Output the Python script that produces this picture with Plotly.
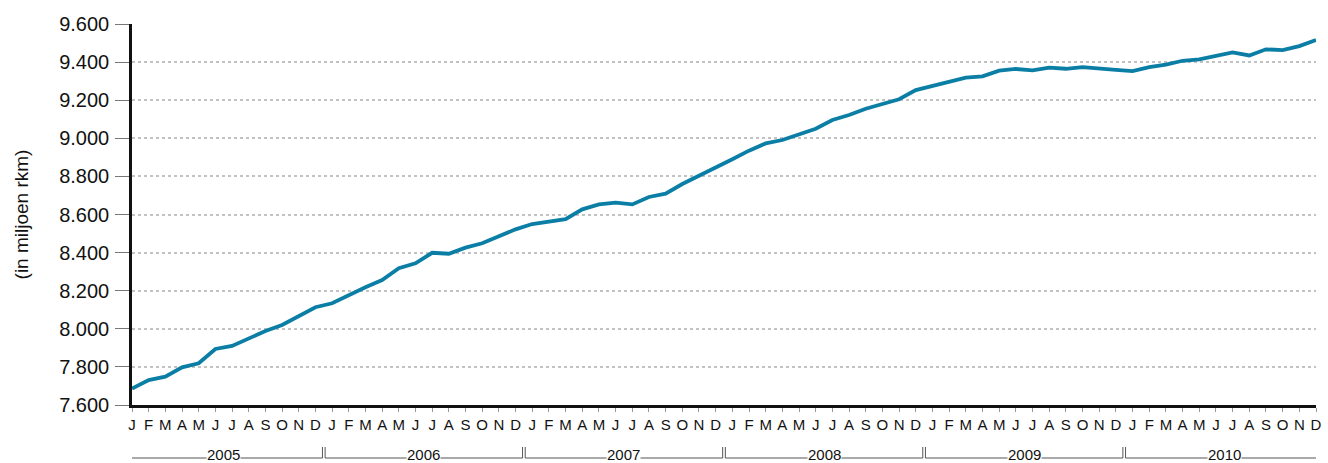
import plotly.graph_objects as go

months = ["J", "F", "M", "A", "M", "J", "J", "A", "S", "O", "N", "D"]
years = ["2005", "2006", "2007", "2008", "2009", "2010"]
values = [
    7686, 7731, 7749, 7798, 7819, 7894, 7910, 7950, 7988, 8020, 8067, 8113,
    8134, 8177, 8218, 8256, 8318, 8344, 8399, 8394, 8426, 8449, 8484, 8522,
    8550, 8562, 8576, 8627, 8653, 8662, 8653, 8692, 8709, 8760, 8802, 8844,
    8890, 8935, 8973, 8991, 9019, 9050, 9096, 9122, 9155, 9180, 9205, 9253,
    9276, 9294, 9318, 9325, 9355, 9364, 9357, 9371, 9365, 9374, 9369, 9359,
    9353, 9373, 9387, 9407, 9414, 9433, 9451, 9435, 9467, 9463, 9484, 9516,
]
yticks = [7600, 7800, 8000, 8200, 8400, 8600, 8800, 9000, 9200, 9400, 9600]

x = list(range(len(values)))
ticktext = [months[i % 12] for i in x]

fig = go.Figure()
fig.add_trace(go.Scatter(x=x, y=values, mode="lines",
                         line=dict(color="#0b7ea6", width=3.8),
                         hoverinfo="skip", showlegend=False))

PH = 381.0  # plot height in px


def py(pix):
    return (405 - pix) / PH


shapes = []
annotations = []
for k, yr in enumerate(years):
    x0 = k * 12 - 0.42
    x1 = k * 12 + 11.42
    for xx in (x0, x1):
        shapes.append(dict(type="line", xref="x", yref="paper", x0=xx, x1=xx,
                           y0=py(447), y1=py(458), line=dict(color="#555", width=1)))
    shapes.append(dict(type="line", xref="x", yref="paper", x0=x0, x1=x1,
                       y0=py(458), y1=py(458), line=dict(color="#555", width=1)))
    annotations.append(dict(x=k * 12 + 5.5, xref="x", y=py(454), yref="paper",
                            text=yr, showarrow=False, yanchor="middle",
                            font=dict(size=15, color="#111", family="Liberation Sans, Arial"),
                            bgcolor="white", borderpad=0))

fig.update_layout(
    width=1328, height=463,
    margin=dict(l=132, r=6, t=24, b=58),
    paper_bgcolor="white", plot_bgcolor="white",
    separators=",.",
    font=dict(family="Liberation Sans, Arial", color="#111"),
    shapes=shapes, annotations=annotations,
)
fig.update_xaxes(
    range=[0, 71], tickmode="array", tickvals=x, ticktext=ticktext,
    showgrid=False, zeroline=False,
    showline=True, linecolor="#111", linewidth=2.5,
    ticks="outside", ticklen=4, tickcolor="#999", tickwidth=1,
    tickfont=dict(size=15, color="#111"), ticklabelstandoff=0,
)
fig.update_yaxes(
    range=[7600, 9600], tickmode="array", tickvals=yticks,
    tickformat=",.0f",
    showgrid=True, gridcolor="#c2c2c2", griddash="dot", gridwidth=2,
    zeroline=False,
    showline=True, linecolor="#111", linewidth=2.5,
    ticks="outside", ticklen=14, tickcolor="#777", tickwidth=1,
    tickfont=dict(size=20, color="#111"), ticklabelstandoff=2,
    title=dict(text="(in miljoen rkm)", font=dict(size=19, color="#111"), standoff=26),
)

fig.write_html("out.html", config={"displayModeBar": False},
               post_script="document.body.style.margin='0';document.body.style.overflow='hidden';")
